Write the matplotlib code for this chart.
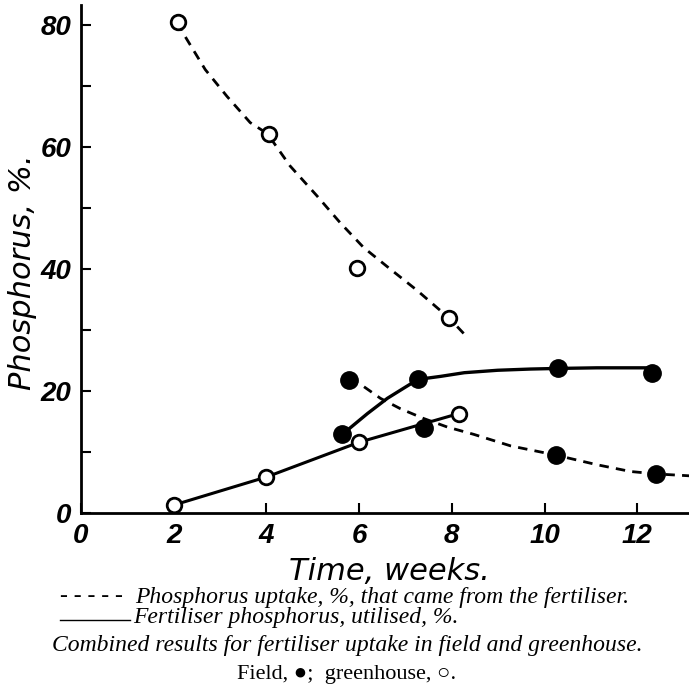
import matplotlib
matplotlib.use("Agg")
import matplotlib.pyplot as plt
from matplotlib.lines import Line2D

# ---- data ----
# greenhouse (open circles), phosphorus uptake from fertiliser (dashed)
gh_dash_x = [2.1, 4.05, 5.95, 7.95]
gh_dash_y = [80.5, 62.2, 40.1, 31.9]
gh_dash_curve_x = [2.1, 2.2, 2.68, 3.15, 3.65, 4.02, 4.51, 5.09, 5.59, 6.10, 6.67, 7.25, 7.95, 8.26]
gh_dash_curve_y = [80.5, 78.7, 72.7, 68.3, 64.0, 62.2, 56.9, 52.0, 47.6, 43.5, 40.0, 36.5, 31.9, 29.4]

# greenhouse (open circles), fertiliser P utilised (solid)
gh_solid_x = [2.0, 4.0, 6.0, 8.15]
gh_solid_y = [1.3, 5.9, 11.6, 16.3]

# field (filled circles), fertiliser P utilised (solid)
fd_solid_x = [5.64, 7.27, 10.29, 12.31]
fd_solid_y = [12.9, 21.9, 23.7, 22.9]
fd_solid_curve_x = [5.64, 6.18, 6.61, 6.97, 7.27, 7.76, 8.27, 8.99, 9.70, 10.29, 11.13, 11.85, 12.25]
fd_solid_curve_y = [12.9, 16.3, 18.8, 20.5, 21.9, 22.4, 23.0, 23.4, 23.6, 23.7, 23.8, 23.8, 23.8]

# field extra point on lower solid line
fd_extra_x = [7.41]
fd_extra_y = [13.9]

# field (filled circles), phosphorus uptake from fertiliser (dashed)
fd_dash_x = [5.78, 10.24, 12.41]
fd_dash_y = [21.8, 9.5, 6.4]
fd_dash_curve_x = [5.78, 6.03, 6.46, 6.89, 7.39, 7.90, 8.47, 9.27, 10.24, 11.14, 11.86, 12.42, 13.12]
fd_dash_curve_y = [21.8, 21.1, 18.8, 17.1, 15.5, 14.1, 12.9, 11.0, 9.5, 7.9, 6.8, 6.4, 6.1]

x_ticks = [0, 2, 4, 6, 8, 10, 12]
y_ticks = [0, 20, 40, 60, 80]
y_minor = [10, 30, 50, 70]

# ---- figure ----
W, H = 689, 687
fig = plt.figure(figsize=(W / 100, H / 100), dpi=100)
x0, y0pix, ytop = 81, 513, 5
ax = fig.add_axes([x0 / W, (H - y0pix) / H, (W - x0) / W, (y0pix - ytop) / H])
px_per_y = (513 - 25) / 80.0
ax.set_ylim(0, (y0pix - ytop) / px_per_y)
ax.set_xlim(0, (W - x0) / 46.35)

for s in ["top", "right"]:
    ax.spines[s].set_visible(False)
for s in ["left", "bottom"]:
    ax.spines[s].set_linewidth(2.0)
    ax.spines[s].set_color("black")

ax.set_xticks(x_ticks)
ax.set_yticks(y_ticks)
ax.set_yticks(y_minor, minor=True)
ax.tick_params(axis="both", which="both", direction="in", length=7, width=1.5, colors="black")
ax.tick_params(axis="y", which="major", pad=7)
ax.tick_params(axis="x", which="major", pad=7)

tick_font = dict(family="Liberation Sans", style="italic", weight="bold", size=20)
ax.set_xticklabels([str(t) for t in x_ticks], fontdict=tick_font)
ax.set_yticklabels([str(t) for t in y_ticks], fontdict=tick_font)

lab_font = dict(family="DejaVu Sans", style="italic", size=22)
ax.set_xlabel("Time, weeks.", fontdict=lab_font)
ax.set_ylabel("Phosphorus, %.", fontdict=lab_font)
ax.xaxis.set_label_coords(0.508, -0.116)
ax.yaxis.set_label_coords(-0.097, 0.474)
ax.xaxis.label.set_va("center")
ax.yaxis.label.set_va("center")

dash = (3.4, 2.6)
ax.plot(gh_dash_curve_x, gh_dash_curve_y, color="black", lw=2.0, dashes=dash, zorder=2)
ax.plot(fd_dash_curve_x, fd_dash_curve_y, color="black", lw=2.0, dashes=dash, zorder=2)
ax.plot(gh_solid_x, gh_solid_y, color="black", lw=2.2, zorder=2)
ax.plot(fd_solid_curve_x, fd_solid_curve_y, color="black", lw=2.4, zorder=2)

open_kw = dict(ls="none", marker="o", ms=10.5, mfc="white", mec="black", mew=2.0, zorder=4)
fill_kw = dict(ls="none", marker="o", ms=12.5, mfc="black", mec="black", zorder=3)
ax.plot(gh_dash_x, gh_dash_y, **open_kw)
ax.plot(gh_solid_x, gh_solid_y, **open_kw)
ax.plot(fd_solid_x, fd_solid_y, **fill_kw)
ax.plot(fd_dash_x, fd_dash_y, **fill_kw)
ax.plot(fd_extra_x, fd_extra_y, **fill_kw)

# ---- captions ----
cap_it = dict(family="Liberation Serif", style="italic", size=17)
def fy(p):
    return 1 - p / H

fig.text(60 / W, fy(597), "- - - - -", ha="left", va="center", **cap_it)
fig.text(135 / W, fy(597), "Phosphorus uptake, %, that came from the fertiliser.",
         ha="left", va="center", **cap_it)
fig.add_artist(Line2D([60 / W, 130 / W], [fy(620), fy(620)], color="black", lw=1.0))
fig.text(133 / W, fy(618), "Fertiliser phosphorus, utilised, %.",
         ha="left", va="center", **cap_it)
fig.text(347 / W, fy(646), "Combined results for fertiliser uptake in field and greenhouse.",
         ha="center", va="center", **cap_it)
fig.text(347 / W, fy(674), "Field, \u25cf;  greenhouse, \u25cb.", ha="center", va="center",
         family=["Liberation Serif", "DejaVu Sans"], size=16)

fig.savefig("out.png", dpi=100)
